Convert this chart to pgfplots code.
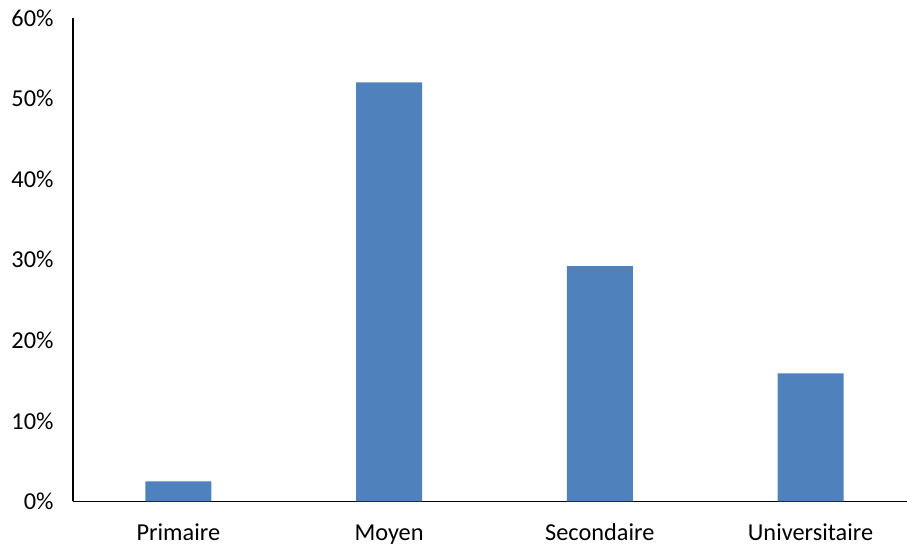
\documentclass[border=0pt]{standalone}
\usepackage{pgfplots}
\pgfplotsset{compat=1.18}
\usepackage{fontspec}
\setmainfont{Carlito}
\definecolor{barblue}{HTML}{4F81BD}
\begin{document}
\begin{tikzpicture}[x=1bp,y=1bp]
\path[use as bounding box] (0,0) rectangle (907,546);
\begin{axis}[
  at={(73bp,44.5bp)}, anchor=south west,
  scale only axis, width=834bp, height=483.5bp,
  xmin=-0.5, xmax=3.458, ymin=0, ymax=60,
  axis x line=bottom, axis y line=left,
  axis line style={line width=1.3bp, black, -},
  major tick length=0pt,
  xtick={0,1,2,3},
  xticklabels={Primaire,Moyen,Secondaire,Universitaire},
  ytick={0,10,20,30,40,50,60},
  yticklabels={0\%,10\%,20\%,30\%,40\%,50\%,60\%},
  tick label style={font=\fontsize{24.4}{29}\selectfont, text=black},
  yticklabel style={xshift=-16bp},
  xticklabel style={anchor=base, yshift=-39bp},
  ybar, bar width=66bp,
]
\addplot[fill=barblue, draw=none] coordinates {(0,2.5) (1,52.0) (2,29.2) (3,15.9)};
\end{axis}
\end{tikzpicture}
\end{document}
